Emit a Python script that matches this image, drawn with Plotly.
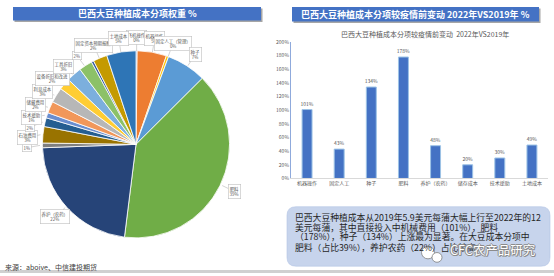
import math
import plotly.graph_objects as go

W, H = 554, 276

# ---------------- data: left pie (Brazil soybean cost weights) ----------------
pie_names = ["飞机操作", "机器操作", "固定人工（管理）", "种子", "肥料", "养护（农药）",
             "其他费用", "石油费用", "保险费用", "技术援助", "储藏费用", "利息成本",
             "设备折旧和改进", "工具折旧", "维护费用", "杂项", "固定资本预期报酬", "土地成本"]
pie_values = [0.2, 5.0, 0.4, 6.8, 39.0, 22.2,
              0.8, 2.8, 1.5, 0.9, 2.0, 2.6,
              2.0, 2.6, 2.3, 0.4, 2.4, 5.0]
# name shown in the callout box ("" = percent only, None = no callout)
pie_tags = ["飞机操作", "机器操作", "固定人工（管理）", "种子", "肥料", "养护（农药）",
            "", "石油费用", "", "技术援助", "储藏费用", "利息成本",
            "设备折旧和改进", "工具折旧", "", None, "固定资本预期报酬", "土地成本"]
pie_colors = ["#4472C4", "#ED7D31", "#FFC000", "#5B9BD5", "#70AD47", "#264478",
              "#7F7F7F", "#997300", "#255E91", "#698ED0", "#F1975A", "#B7B7B7",
              "#FFCD33", "#7CAFDD", "#8CC168", "#335AA1", "#C49A00", "#2E75B6"]

# ---------------- data: right bar chart (change vs 2019) ----------------
bar_cats = ["机器操作", "固定人工", "种子", "肥料", "养护（农药）", "储存成本", "技术援助", "土地成本"]
bar_vals = [101, 43, 134, 178, 48, 20, 30, 49]

left_title = "巴西大豆种植成本分项权重 %"
right_title = "巴西大豆种植成本分项较疫情前变动 2022年VS2019年 %"
bar_title = "巴西大豆种植成本分项较疫情前变动  2022年VS2019年"
note_lines = [
    "巴西大豆种植成本从2019年5.9美元每蒲大幅上行至2022年的12",
    "美元每蒲，其中直接投入中机械费用（101%），肥料",
    "（178%），种子（134%）上涨最为显著。在大豆成本分项中",
    "肥料（占比39%），养护农药（22%）占比较高",
]
source_text = "来源：aboive、中信建投期货"
watermark = "CFC农产品研究"

FONT = "Noto Sans CJK SC"


def P(x, y):
    return x / W, 1 - y / H


def text_ann(x, y, text, size, color, xanchor="center", **kw):
    a, b = P(x, y)
    d = dict(x=a, y=b, xref="paper", yref="paper", showarrow=False, xanchor=xanchor,
             yanchor="middle", text=text, font=dict(size=size, color=color, family=FONT))
    d.update(kw)
    return d


fig = go.Figure()

# ---------------- pie ----------------
cx, cy, r = 136, 144, 96
x0p, y1p = P(cx - r, cy - r)
x1p, y0p = P(cx + r, cy + r)
fig.add_trace(go.Pie(
    labels=pie_names, values=pie_values, sort=False, direction="clockwise", rotation=0,
    marker=dict(colors=pie_colors, line=dict(color="white", width=0.8)),
    textinfo="none", hoverinfo="label+percent", showlegend=False,
    domain=dict(x=[x0p, x1p], y=[y0p, y1p]),
))

total = sum(pie_values)
cum = 0.0
items = []
for name, v, tag in zip(pie_names, pie_values, pie_tags):
    mid = (cum + v / 2) / total * 360
    cum += v
    if tag is None:
        continue
    pct = round(v / total * 100)
    txt = f"{tag}<br>{pct}%" if tag else f"{pct}%"
    th = math.radians(mid)
    ex, ey = cx + r * math.sin(th), cy - r * math.cos(th)
    lx, ly = cx + 1.14 * r * math.sin(th), cy - 1.14 * r * math.cos(th)
    items.append(dict(txt=txt, ex=ex, ey=ey, lx=lx, ly=ly, h=6 if tag else 3.5))

left = sorted([it for it in items if it["lx"] < cx - 0.4 * r], key=lambda it: it["ly"])
for a, b in zip(left, left[1:]):
    gap = a["h"] + b["h"] + 1
    if b["ly"] < a["ly"] + gap:
        b["ly"] = a["ly"] + gap

annotations = []
for it in items:
    ax_, ay_ = P(it["ex"], it["ey"])
    annotations.append(dict(
        x=ax_, y=ay_, xref="paper", yref="paper", text=it["txt"],
        showarrow=True, arrowhead=0, arrowwidth=0.5, arrowcolor="#A6A6A6",
        ax=it["lx"] - it["ex"], ay=it["ly"] - it["ey"],
        font=dict(size=4.4, color="#595959", family=FONT),
        bgcolor="white", bordercolor="#BFBFBF", borderwidth=0.6, borderpad=1,
        align="center",
    ))

# ---------------- bars ----------------
fig.add_trace(go.Bar(
    x=bar_cats, y=bar_vals, xaxis="x", yaxis="y", width=0.31,
    marker=dict(color="#4472C4", line=dict(color="#9DC3E6", width=1)),
    text=[f"{v}%" for v in bar_vals], textposition="outside", constraintext="none",
    textfont=dict(size=5, color="#595959", family=FONT), cliponaxis=False, showlegend=False,
))

# ---------------- shapes ----------------
shapes = []


def rect(x0, y0, x1, y1, fill, layer="above"):
    a, b = P(x0, y0)
    c, d = P(x1, y1)
    return dict(type="rect", xref="paper", yref="paper", x0=a, x1=c, y0=d, y1=b,
                fillcolor=fill, line=dict(width=0), layer=layer)


# header bars with shadows
shapes.append(rect(14.5, 4.5, 262.5, 18.5, "#A6A6A6"))
shapes.append(rect(13, 3, 261, 17, "#4472C4"))
shapes.append(rect(293.5, 4.5, 540.5, 19.5, "#A6A6A6"))
shapes.append(rect(292, 3, 539, 18, "#4472C4"))


# rounded note box
def rounded(x0, y0, x1, y1, rr):
    def s(x, y):
        a, b = P(x, y)
        return f"{a:.5f},{b:.5f}"
    return (f"M {s(x0 + rr, y0)} L {s(x1 - rr, y0)} Q {s(x1, y0)} {s(x1, y0 + rr)} "
            f"L {s(x1, y1 - rr)} Q {s(x1, y1)} {s(x1 - rr, y1)} "
            f"L {s(x0 + rr, y1)} Q {s(x0, y1)} {s(x0, y1 - rr)} "
            f"L {s(x0, y0 + rr)} Q {s(x0, y0)} {s(x0 + rr, y0)} Z")


shapes.append(dict(type="path", xref="paper", yref="paper", path=rounded(287, 208, 550, 269, 9),
                   fillcolor="#C7D4EC", line=dict(color="#B4C4E4", width=0.6), layer="below"))

# bottom divider
shapes.append(rect(0, 273, W, 276, "#D0D0D0"))

# watermark logo (two bubbles)
for (ccx, ccy, rad) in [(428, 255, 6.5), (437, 260, 5)]:
    a, b = P(ccx - rad, ccy - rad)
    c, d = P(ccx + rad, ccy + rad)
    shapes.append(dict(type="circle", xref="paper", yref="paper", x0=a, x1=c, y0=d, y1=b,
                       fillcolor="white", line=dict(color="#7F7F7F", width=0.8), layer="above"))

# ---------------- text annotations ----------------
annotations.append(text_ann(137, 10, f"<b>{left_title}</b>", 9, "white"))
annotations.append(text_ann(415.5, 10.5, f"<b>{right_title}</b>", 9, "white"))
annotations.append(text_ann(425, 31, bar_title, 7, "#595959"))

line_ys = [219.5, 229, 239, 249.5]
for txt, yy in zip(note_lines, line_ys):
    annotations.append(text_ann(293, yy, txt, 8.8, "#262626", xanchor="left"))

for dx, dy in [(-0.8, 0), (0.8, 0), (0, -0.8), (0, 0.8), (0.6, -0.6)]:
    annotations.append(text_ann(448, 252, watermark, 12.5, "#8C8C8C", xanchor="left",
                                xshift=dx, yshift=dy))
annotations.append(text_ann(448, 252, watermark, 12.5, "white", xanchor="left"))

annotations.append(text_ann(3, 270, source_text, 7, "#404040", xanchor="left"))

fig.update_layout(
    width=W, height=H, margin=dict(l=0, r=0, t=0, b=0),
    paper_bgcolor="white", plot_bgcolor="white",
    font=dict(family=FONT),
    xaxis=dict(domain=[291 / W, 548 / W], anchor="y", showgrid=False, showline=True,
               linecolor="#D9D9D9", linewidth=1, ticks="", tickfont=dict(size=5, color="#595959")),
    yaxis=dict(domain=[1 - 179 / H, 1 - 39 / H], anchor="x", range=[0, 200], dtick=20,
               ticksuffix="%", showgrid=False, showline=True, linecolor="#8FAADC", linewidth=1,
               zeroline=False, ticks="", tickfont=dict(size=5, color="#595959")),
    bargap=0.69,
    shapes=shapes, annotations=annotations,
)

fig.write_html("out.html")
